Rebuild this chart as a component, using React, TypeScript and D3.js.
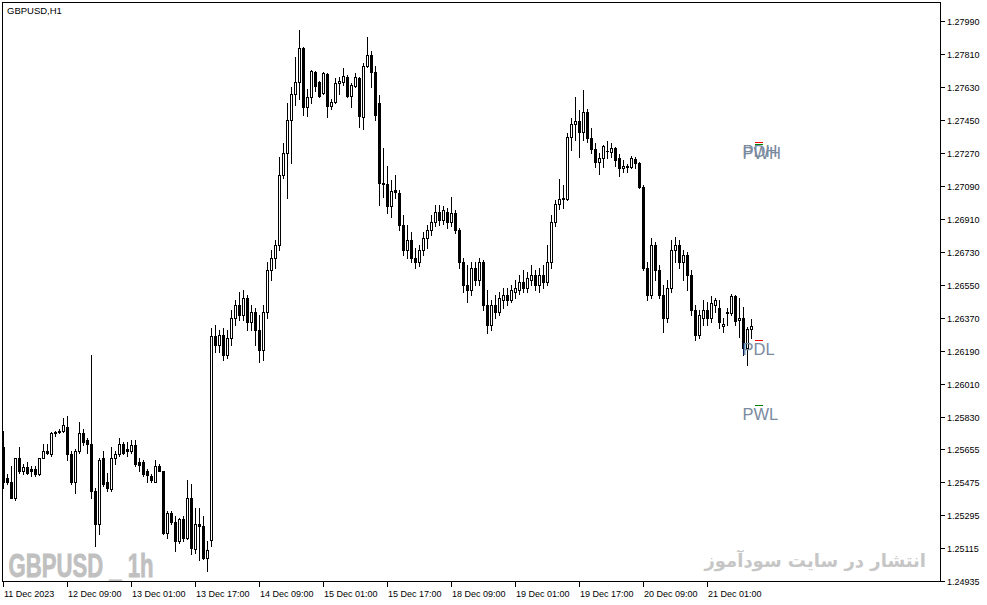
import * as d3 from 'd3';

const W = 987;
const H = 605;
const PLOT = { left: 3, top: 3, right: 942, bottom: 583 };

// GBPUSD H1, first bar 11 Dec 2023 17:00 (one bar per hour, weekends skipped)
const opens = [
  1.25665, 1.25496, 1.25474, 1.25392, 1.2561, 1.25539, 1.25556, 1.25545, 1.2555, 1.25523,
  1.2561, 1.25648, 1.25627, 1.25741, 1.25747, 1.25752, 1.25779, 1.25627, 1.25479, 1.25643,
  1.25741, 1.25703, 1.25686, 1.25425, 1.2525, 1.25605, 1.25474, 1.25436, 1.2561, 1.25627,
  1.25686, 1.25654, 1.25643, 1.25681, 1.25588, 1.25583, 1.25534, 1.25512, 1.25479, 1.25566,
  1.25534, 1.25201, 1.2531, 1.25256, 1.25157, 1.25277, 1.25174, 1.25392, 1.25114, 1.2525,
  1.25239, 1.25065, 1.25163, 1.2627, 1.26221, 1.26276, 1.26167, 1.26259, 1.26368, 1.26439,
  1.26385, 1.26478, 1.26347, 1.26401, 1.26303, 1.26194, 1.26401, 1.2663, 1.26696, 1.26767,
  1.27148, 1.27268, 1.27448, 1.2759, 1.27656, 1.27841, 1.27519, 1.27574, 1.2771, 1.27656,
  1.27596, 1.27699, 1.27525, 1.27547, 1.2765, 1.27656, 1.27683, 1.27579, 1.27634, 1.27678,
  1.27465, 1.27743, 1.27803, 1.2771, 1.27541, 1.27105, 1.27099, 1.26979, 1.27067, 1.2705,
  1.26876, 1.26739, 1.26794, 1.26696, 1.26674, 1.26739, 1.26805, 1.26848, 1.26892, 1.26947,
  1.26903, 1.26947, 1.26892, 1.26941, 1.26848, 1.26674, 1.26548, 1.26521, 1.26641, 1.26576,
  1.26674, 1.26439, 1.2633, 1.26439, 1.26401, 1.26467, 1.26494, 1.26467, 1.2651, 1.26521,
  1.26565, 1.26532, 1.26576, 1.26603, 1.26548, 1.26603, 1.26565, 1.26674, 1.26892, 1.2699,
  1.27018, 1.27018, 1.27356, 1.27427, 1.27443, 1.27383, 1.27492, 1.2735, 1.2729, 1.27219,
  1.27241, 1.27279, 1.27274, 1.27296, 1.27241, 1.27187, 1.27192, 1.27192, 1.27236, 1.27214,
  1.27083, 1.26641, 1.26494, 1.26767, 1.2663, 1.26494, 1.26368, 1.26532, 1.26739, 1.26767,
  1.26674, 1.26712, 1.26603, 1.26412, 1.26276, 1.26368, 1.26412, 1.26368, 1.26439, 1.26423,
  1.26325, 1.26396, 1.26396, 1.26488, 1.26357, 1.26368, 1.26205, 1.26308,
];
const highs = [
  1.25757, 1.25523, 1.25566, 1.2561, 1.25665, 1.25577, 1.25583, 1.25566, 1.25566, 1.2561,
  1.25686, 1.25686, 1.25747, 1.25752, 1.25763, 1.25828, 1.25834, 1.25648, 1.25654, 1.25801,
  1.25768, 1.25719, 1.26167, 1.25446, 1.25605, 1.25648, 1.25528, 1.25665, 1.25648, 1.25714,
  1.25692, 1.25692, 1.25703, 1.25703, 1.25605, 1.25594, 1.2555, 1.25523, 1.25599, 1.25577,
  1.25539, 1.25321, 1.25321, 1.25294, 1.25283, 1.25294, 1.25485, 1.25468, 1.25337, 1.25337,
  1.25294, 1.25157, 1.26314, 1.2633, 1.26303, 1.26314, 1.26303, 1.26412, 1.26467, 1.2651,
  1.26521, 1.26494, 1.26439, 1.26423, 1.26385, 1.26439, 1.26674, 1.26739, 1.26794, 1.27247,
  1.27323, 1.27541, 1.27628, 1.27792, 1.27939, 1.27847, 1.27618, 1.27721, 1.27716, 1.27661,
  1.2771, 1.27705, 1.27563, 1.27678, 1.27683, 1.27732, 1.27694, 1.2765, 1.27705, 1.27683,
  1.27759, 1.27901, 1.27825, 1.27743, 1.27585, 1.27296, 1.27198, 1.27121, 1.27148, 1.27067,
  1.2693, 1.26876, 1.26838, 1.2675, 1.26767, 1.26838, 1.26876, 1.2693, 1.26985, 1.26985,
  1.26979, 1.26968, 1.27028, 1.26958, 1.26859, 1.26696, 1.26657, 1.26674, 1.26674, 1.26696,
  1.26685, 1.26521, 1.26467, 1.26494, 1.2651, 1.26532, 1.26532, 1.26548, 1.26576, 1.26603,
  1.2663, 1.26619, 1.26657, 1.2663, 1.26641, 1.26657, 1.26767, 1.2693, 1.27012, 1.27127,
  1.27094, 1.27378, 1.27459, 1.27574, 1.27503, 1.27612, 1.27508, 1.27405, 1.27323, 1.27268,
  1.27312, 1.27334, 1.27323, 1.27301, 1.27263, 1.2723, 1.27208, 1.27252, 1.27247, 1.27219,
  1.27094, 1.26674, 1.26805, 1.26783, 1.26657, 1.26548, 1.26576, 1.26794, 1.2681, 1.26794,
  1.26739, 1.26728, 1.2663, 1.26439, 1.26412, 1.26467, 1.26456, 1.26488, 1.26478, 1.26467,
  1.26368, 1.26423, 1.26499, 1.26494, 1.26478, 1.26428, 1.26319, 1.26363,
];
const lows = [
  1.25446, 1.25468, 1.25387, 1.25376, 1.25528, 1.25523, 1.25523, 1.25512, 1.25507, 1.25517,
  1.25605, 1.25627, 1.25621, 1.2573, 1.25741, 1.25747, 1.25594, 1.25468, 1.25419, 1.25632,
  1.25681, 1.25632, 1.25392, 1.2513, 1.25196, 1.25457, 1.2543, 1.2543, 1.25577, 1.25621,
  1.25627, 1.25621, 1.25632, 1.25566, 1.25539, 1.25512, 1.25474, 1.25474, 1.25474, 1.25534,
  1.25196, 1.25174, 1.2525, 1.25103, 1.25146, 1.25157, 1.25168, 1.25086, 1.25092, 1.25054,
  1.25059, 1.24994, 1.2513, 1.26183, 1.26183, 1.26139, 1.2615, 1.26221, 1.2633, 1.26357,
  1.26357, 1.26303, 1.26303, 1.26221, 1.26128, 1.26139, 1.26368, 1.26576, 1.26641, 1.26739,
  1.27132, 1.27023, 1.27214, 1.2753, 1.27563, 1.27476, 1.2747, 1.27541, 1.27607, 1.27574,
  1.2759, 1.27465, 1.27508, 1.27541, 1.2759, 1.27639, 1.27574, 1.27519, 1.27628, 1.2741,
  1.27399, 1.27738, 1.27628, 1.27448, 1.26985, 1.27028, 1.26941, 1.26919, 1.27023, 1.26848,
  1.26712, 1.26696, 1.26674, 1.26641, 1.26652, 1.26712, 1.2675, 1.26821, 1.2687, 1.26876,
  1.26881, 1.26859, 1.2687, 1.26832, 1.26641, 1.2651, 1.26456, 1.26494, 1.26548, 1.26548,
  1.26412, 1.26287, 1.26303, 1.26368, 1.26385, 1.26423, 1.26439, 1.26456, 1.26478, 1.26499,
  1.2651, 1.2651, 1.26548, 1.26521, 1.2651, 1.26532, 1.26548, 1.26641, 1.2687, 1.26963,
  1.26968, 1.27012, 1.27285, 1.27339, 1.27247, 1.27339, 1.27328, 1.27268, 1.27192, 1.27154,
  1.27192, 1.27241, 1.27247, 1.27198, 1.27143, 1.27165, 1.27165, 1.27187, 1.27187, 1.27078,
  1.2663, 1.26467, 1.26478, 1.26576, 1.26478, 1.26292, 1.26347, 1.2651, 1.26674, 1.26641,
  1.26576, 1.26521, 1.26385, 1.26248, 1.26259, 1.2633, 1.2633, 1.26347, 1.26401, 1.26314,
  1.26292, 1.2633, 1.26385, 1.2633, 1.26265, 1.26167, 1.26117, 1.26259,
];
const closes = [
  1.25479, 1.25474, 1.25392, 1.25605, 1.25539, 1.25561, 1.25528, 1.25534, 1.25523, 1.25605,
  1.25648, 1.25632, 1.25741, 1.25747, 1.25752, 1.2579, 1.25627, 1.25479, 1.25648, 1.25741,
  1.25692, 1.25686, 1.2543, 1.2525, 1.25599, 1.25468, 1.25446, 1.2561, 1.25627, 1.25686,
  1.25632, 1.25643, 1.25681, 1.25577, 1.25572, 1.25523, 1.25517, 1.25485, 1.25566, 1.25539,
  1.25201, 1.2531, 1.25256, 1.25157, 1.25277, 1.25174, 1.25392, 1.25119, 1.2525, 1.25239,
  1.25065, 1.25108, 1.2627, 1.26221, 1.26276, 1.26167, 1.26259, 1.26368, 1.26439, 1.26385,
  1.26478, 1.26347, 1.26401, 1.26303, 1.26194, 1.26401, 1.2663, 1.26696, 1.26767, 1.27148,
  1.27268, 1.27448, 1.2759, 1.27656, 1.27841, 1.27519, 1.27574, 1.27716, 1.27634, 1.27579,
  1.27705, 1.27525, 1.27547, 1.2765, 1.27661, 1.27689, 1.27579, 1.27639, 1.27683, 1.2747,
  1.27743, 1.27803, 1.2771, 1.27476, 1.27105, 1.27099, 1.26979, 1.27061, 1.27056, 1.26876,
  1.26739, 1.26794, 1.26696, 1.26674, 1.26739, 1.26805, 1.26848, 1.26892, 1.26947, 1.26903,
  1.26958, 1.26892, 1.26941, 1.26848, 1.26674, 1.26548, 1.26521, 1.26641, 1.26576, 1.26674,
  1.26439, 1.2633, 1.26439, 1.26401, 1.26478, 1.26494, 1.26467, 1.26521, 1.26532, 1.26565,
  1.26532, 1.26587, 1.26603, 1.26548, 1.26603, 1.26565, 1.26674, 1.26892, 1.2699, 1.27018,
  1.27023, 1.27356, 1.27427, 1.27443, 1.27383, 1.27492, 1.2735, 1.2729, 1.27219, 1.27241,
  1.27307, 1.27279, 1.27296, 1.2723, 1.27187, 1.27198, 1.27198, 1.27241, 1.27214, 1.27083,
  1.26641, 1.26494, 1.26767, 1.2663, 1.26494, 1.26368, 1.26532, 1.26739, 1.26767, 1.26674,
  1.26712, 1.26603, 1.26412, 1.26276, 1.26385, 1.26412, 1.26368, 1.2645, 1.26467, 1.26347,
  1.26336, 1.26401, 1.26488, 1.26352, 1.26368, 1.26205, 1.26308, 1.26325,
];

const priceTickLabels = [
  '1.27990', '1.27810', '1.27630', '1.27450', '1.27270', '1.27090', '1.26910', '1.26730',
  '1.26550', '1.26370', '1.26190', '1.26010', '1.25830', '1.25655', '1.25475', '1.25295',
  '1.25115', '1.24935',
];
const timeTickBars = [0, 16, 32, 48, 64, 80, 96, 112, 128, 144, 160, 176];
const timeTickLabels = [
  '11 Dec 2023', '12 Dec 09:00', '13 Dec 01:00', '13 Dec 17:00', '14 Dec 09:00',
  '15 Dec 01:00', '15 Dec 17:00', '18 Dec 09:00', '19 Dec 01:00', '19 Dec 17:00',
  '20 Dec 09:00', '21 Dec 01:00',
];

const levelNames = ['PDH', 'PWH', 'PDL', 'PWL'];
const levelPrices = [1.2733, 1.27316, 1.26248, 1.25898];
const levelColors = ['#ff0000', '#008000', '#ff0000', '#008000'];

const AXIS_FONT = '"Liberation Sans", Arial, sans-serif';

export default function App() {
  const x = d3.scaleLinear().domain([0, 234]).range([3, 939]);
  const y = d3.scaleLinear().domain([1.2799, 1.24935]).range([20.8, 581.4]);

  const candles = opens.map((o, i) => {
    const c = closes[i];
    const cx = Math.round(x(i)) + 0.5;
    const yo = Math.round(y(o));
    const yc = Math.round(y(c));
    const yh = Math.round(y(highs[i]));
    const yl = Math.round(y(lows[i]));
    const top = Math.min(yo, yc);
    const bot = Math.max(yo, yc);
    const bull = c >= o;
    let body;
    if (bot === top) {
      body = <line x1={cx - 1.5} x2={cx + 1.5} y1={top + 0.5} y2={top + 0.5} stroke="#000" />;
    } else if (bull) {
      body = (
        <rect x={cx - 1} y={top + 0.5} width={2} height={bot - top} fill="#fff" stroke="#000" strokeWidth={1} />
      );
    } else {
      body = <rect x={cx - 1.5} y={top} width={3} height={bot - top + 1} fill="#000" />;
    }
    return (
      <g key={i}>
        <line x1={cx} x2={cx} y1={yh} y2={yl + 1} stroke="#000" strokeWidth={1} />
        {body}
      </g>
    );
  });

  return (
    <svg
      width={W}
      height={H}
      viewBox={`0 0 ${W} ${H}`}
      style={{ position: 'absolute', left: 0, top: 0, background: '#fff' }}
    >
      <defs>
        <clipPath id="plot-clip">
          <rect x={PLOT.left} y={PLOT.top} width={PLOT.right - PLOT.left - 1} height={PLOT.bottom - PLOT.top - 1} />
        </clipPath>
      </defs>
      <rect x={0} y={0} width={W} height={H} fill="#fff" />

      {/* watermarks */}
      <text
        x={8.5}
        y={577}
        fontFamily='"Liberation Sans", Arial, sans-serif'
        fontWeight="bold"
        fontSize={33}
        fill="#c0c0c0"
        stroke="#c0c0c0"
        strokeWidth={0.8}
        textLength={145}
        lengthAdjust="spacingAndGlyphs"
      >
        GBPUSD _ 1h
      </text>
      <text
        x={926}
        y={567}
        textAnchor="end"
        fontFamily='"DejaVu Sans", sans-serif'
        fontWeight="bold"
        fontSize={18}
        fill="#c6c6c6"
      >
        انتشار در سایت سودآموز
      </text>

      <g clipPath="url(#plot-clip)">{candles}</g>

      {/* level labels */}
      {levelNames.map((name, k) => {
        const ly = Math.round(y(levelPrices[k])) + 0.5;
        return (
          <g key={name}>
            <text x={742.5} y={ly + 14.5} fontFamily={AXIS_FONT} fontSize={16.5} fill="#7a8aa0">
              {name}
            </text>
            <line x1={755} x2={763} y1={ly} y2={ly} stroke={levelColors[k]} strokeWidth={1} />
          </g>
        );
      })}

      {/* frame */}
      <rect
        x={PLOT.left - 0.5}
        y={PLOT.top - 0.5}
        width={PLOT.right - PLOT.left - 1}
        height={PLOT.bottom - PLOT.top - 1}
        fill="none"
        stroke="#000"
        strokeWidth={1}
      />

      <text x={7} y={14} fontFamily={AXIS_FONT} fontSize={9.5} fill="#000">
        GBPUSD,H1
      </text>

      {/* price axis */}
      {priceTickLabels.map((lab) => {
        const ty = Math.round(y(+lab)) + 0.5;
        return (
          <g key={lab}>
            <line x1={PLOT.right - 1} x2={PLOT.right + 3} y1={ty} y2={ty} stroke="#000" />
            <text x={947} y={ty + 3.5} fontFamily={AXIS_FONT} fontSize={9} fill="#000">
              {lab}
            </text>
          </g>
        );
      })}

      {/* time axis */}
      {timeTickBars.map((b, k) => {
        const tx = Math.round(x(b)) + 0.5;
        return (
          <g key={b}>
            <line x1={tx} x2={tx} y1={PLOT.bottom - 1} y2={PLOT.bottom + 4} stroke="#000" />
            <text x={tx + 0.5} y={597} fontFamily={AXIS_FONT} fontSize={9} fill="#000">
              {timeTickLabels[k]}
            </text>
          </g>
        );
      })}
    </svg>
  );
}
